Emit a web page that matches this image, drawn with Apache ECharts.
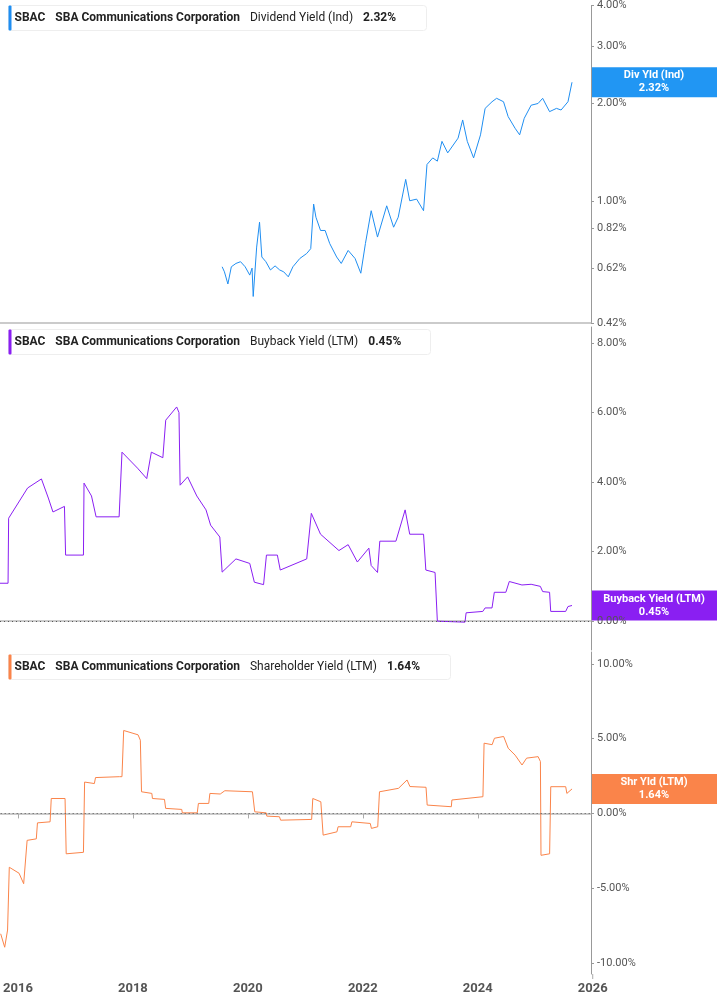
<!DOCTYPE html>
<html>
<head>
<meta charset="utf-8">
<script src="https://cdn.jsdelivr.net/npm/echarts@6/dist/echarts.min.js"></script>
<style>html,body{margin:0;padding:0;background:#fff}#c{width:717px;height:1005px}</style>
</head>
<body>
<div id="c"></div>
<script>
// dividend yield (ind), %  [decimal year, value]
const divYield = [[2019.56,0.626],[2019.60,0.604],[2019.66,0.554],[2019.72,0.626],[2019.80,0.641],[2019.88,0.649],[2019.96,0.626],[2020.04,0.59],[2020.08,0.62],[2020.10,0.507],[2020.16,0.72],[2020.21,0.859],[2020.25,0.671],[2020.32,0.649],[2020.40,0.612],[2020.48,0.63],[2020.56,0.612],[2020.63,0.604],[2020.71,0.583],[2020.79,0.626],[2020.91,0.664],[2021.03,0.688],[2021.10,0.712],[2021.15,0.977],[2021.19,0.89],[2021.27,0.81],[2021.35,0.81],[2021.43,0.738],[2021.55,0.671],[2021.63,0.641],[2021.75,0.703],[2021.87,0.664],[2021.97,0.598],[2022.05,0.738],[2022.15,0.932],[2022.26,0.773],[2022.42,0.965],[2022.54,0.829],[2022.62,0.89],[2022.75,1.164],[2022.82,1.0],[2022.94,1.012],[2023.06,0.932],[2023.12,1.294],[2023.22,1.356],[2023.30,1.325],[2023.38,1.525],[2023.48,1.405],[2023.66,1.56],[2023.74,1.775],[2023.82,1.525],[2023.93,1.356],[2024.05,1.597],[2024.13,1.927],[2024.25,2.02],[2024.33,2.07],[2024.45,2.02],[2024.53,1.818],[2024.65,1.674],[2024.73,1.597],[2024.81,1.796],[2024.93,1.971],[2025.05,1.995],[2025.13,2.07],[2025.25,1.883],[2025.37,1.927],[2025.45,1.905],[2025.57,2.02],[2025.64,2.32]];
// buyback yield (LTM), %
const buybackYield = [[2015.70,1.09],[2015.84,1.09],[2015.85,2.96],[2016.18,3.83],[2016.42,4.09],[2016.54,3.54],[2016.62,3.14],[2016.82,3.3],[2016.84,1.9],[2017.15,1.9],[2017.16,3.97],[2017.29,3.6],[2017.37,3.0],[2017.77,3.0],[2017.82,4.86],[2018.09,4.4],[2018.25,4.1],[2018.33,4.86],[2018.53,4.7],[2018.58,5.78],[2018.77,6.16],[2018.81,6.0],[2018.83,3.91],[2018.96,4.15],[2019.12,3.6],[2019.28,3.2],[2019.36,2.76],[2019.52,2.42],[2019.56,1.41],[2019.80,1.79],[2020.04,1.66],[2020.12,1.12],[2020.28,1.05],[2020.33,1.9],[2020.52,1.9],[2020.57,1.47],[2021.03,1.79],[2021.11,3.1],[2021.27,2.5],[2021.59,2.03],[2021.75,2.2],[2021.91,1.7],[2022.11,2.1],[2022.15,1.6],[2022.26,1.4],[2022.30,2.3],[2022.58,2.3],[2022.74,3.2],[2022.82,2.5],[2023.06,2.5],[2023.10,1.47],[2023.26,1.4],[2023.30,0.0],[2023.78,-0.03],[2023.80,0.24],[2024.09,0.28],[2024.13,0.38],[2024.25,0.38],[2024.29,0.83],[2024.49,0.83],[2024.55,1.14],[2024.77,1.04],[2024.93,1.06],[2025.09,1.0],[2025.13,0.85],[2025.25,0.83],[2025.27,0.28],[2025.53,0.28],[2025.57,0.42],[2025.64,0.45]];
// shareholder yield (LTM), %
const shrYield = [[2015.70,-8.05],[2015.77,-8.95],[2015.82,-7.8],[2015.85,-3.6],[2016.02,-4.0],[2016.10,-4.7],[2016.16,-1.8],[2016.32,-1.7],[2016.34,-0.63],[2016.56,-0.56],[2016.58,1.0],[2016.82,1.0],[2016.84,-2.7],[2017.14,-2.6],[2017.16,2.1],[2017.33,2.0],[2017.35,2.4],[2017.77,2.46],[2017.81,2.46],[2017.84,5.55],[2018.09,5.26],[2018.13,4.9],[2018.15,1.45],[2018.33,1.34],[2018.34,1.0],[2018.55,0.94],[2018.57,0.34],[2018.85,0.27],[2018.86,0.04],[2019.12,0.04],[2019.14,0.67],[2019.32,0.67],[2019.34,1.34],[2019.52,1.3],[2019.60,1.52],[2020.08,1.45],[2020.12,0.11],[2020.32,0.04],[2020.33,-0.18],[2020.55,-0.22],[2020.57,-0.45],[2021.11,-0.4],[2021.13,1.0],[2021.27,0.78],[2021.31,-1.45],[2021.55,-1.23],[2021.57,-0.89],[2021.79,-0.89],[2021.81,-0.56],[2022.13,-0.67],[2022.15,-1.0],[2022.26,-0.89],[2022.29,1.45],[2022.62,1.68],[2022.77,2.24],[2022.82,1.8],[2023.10,1.75],[2023.12,0.56],[2023.54,0.45],[2023.55,0.9],[2024.09,1.12],[2024.11,4.7],[2024.25,4.6],[2024.29,5.03],[2024.45,5.15],[2024.53,4.36],[2024.65,3.9],[2024.77,3.24],[2024.85,3.7],[2025.05,3.8],[2025.09,3.47],[2025.10,-2.8],[2025.25,-2.7],[2025.27,1.79],[2025.53,1.79],[2025.55,1.34],[2025.64,1.64]];

const yearTicks = [2016, 2018, 2020, 2022, 2024];
const lastYearTick = 2026;
const divTicks = [0.42, 0.62, 0.82, 1, 2, 3, 4];
const buybackTicks = [0, 2, 4, 6, 8];
const shrTicks = [-10, -5, 0, 5, 10];

const blue = '#1f8ef1', purple = '#8a1ff2', orange = '#fa844a';
const font = 'Roboto, "Liberation Sans", sans-serif';
const chart = echarts.init(document.getElementById('c'));

function xAx(i, showLabels) {
  return {
    type: 'value', gridIndex: i, min: 2015.70, max: 2025.97,
    axisLine: { show: true, lineStyle: { color: '#bbb', width: 1.5 } },
    axisTick: { show: showLabels, customValues: yearTicks, length: 5, lineStyle: { color: '#aaa' } },
    axisLabel: { show: showLabels, customValues: yearTicks, formatter: v => String(Math.round(v)),
      color: '#555', fontWeight: 'bold', fontSize: 13, fontFamily: font, margin: 8 },
    splitLine: { show: false }
  };
}
function yAx(i, type, min, max, ticks) {
  return {
    type, gridIndex: i, position: 'right', min, max, logBase: 10,
    axisLine: { show: true, lineStyle: { color: '#999' } },
    axisTick: { show: true, customValues: ticks, length: 3, lineStyle: { color: '#999' } },
    axisLabel: { customValues: ticks, formatter: v => v.toFixed(2) + '%', color: '#555',
      fontSize: 11, fontFamily: font, margin: 6 },
    splitLine: { show: false }
  };
}
const zeroLine = { silent: true, symbol: 'none', label: { show: false },
  lineStyle: { type: [1, 3], color: '#555', width: 1 }, data: [{ yAxis: 0 }] };

chart.setOption({
  animation: false,
  grid: [
    { left: 0, right: 126, top: 3, height: 320 },
    { left: 0, right: 126, top: 327, height: 323 },
    { left: 0, right: 126, top: 652, height: 322 }
  ],
  xAxis: [xAx(0, false), xAx(1, false), xAx(2, true)],
  yAxis: [yAx(0, 'log', 0.42, 4, divTicks), yAx(1, 'value', -0.83, 8.46, buybackTicks), yAx(2, 'value', -10.74, 10.8, shrTicks)],
  series: [
    { type: 'line', xAxisIndex: 0, yAxisIndex: 0, data: divYield, showSymbol: false, lineStyle: { color: blue, width: 1 } },
    { type: 'line', xAxisIndex: 1, yAxisIndex: 1, data: buybackYield, showSymbol: false, lineStyle: { color: purple, width: 1 }, markLine: zeroLine },
    { type: 'line', xAxisIndex: 2, yAxisIndex: 2, data: shrYield, showSymbol: false, lineStyle: { color: orange, width: 1 }, markLine: zeroLine }
  ]
});

function legend(y, color, metric, val, w) {
  return { type: 'group', left: 8, top: y, children: [
    { type: 'rect', shape: { x: 0, y: 0, width: w, height: 25, r: 3 }, style: { fill: '#fff', stroke: '#eee' } },
    { type: 'rect', shape: { x: 0, y: 0, width: 3, height: 25, r: 1 }, style: { fill: color } },
    { type: 'text', x: 6, y: 6, style: { text: '{b|SBAC}   {b|SBA Communications Corporation}   {n|' + metric + '}   {b|' + val + '}',
      rich: { b: { fontWeight: 'bold', fontSize: 12, fill: '#222', fontFamily: font }, n: { fontSize: 12, fill: '#222', fontFamily: font } } } }
  ] };
}
function badge(seriesIdx, lastVal, color, line1, line2) {
  const y = chart.convertToPixel({ seriesIndex: seriesIdx }, lastVal)[1];
  return { type: 'group', left: 591, top: y - 15, children: [
    { type: 'rect', shape: { x: 0, y: 0, width: 126, height: 30 }, style: { fill: color } },
    { type: 'text', x: 63, y: 15, style: { text: line1 + '\n' + line2, fill: '#fff', fontWeight: 'bold', fontSize: 11,
      fontFamily: font, align: 'center', verticalAlign: 'middle', lineHeight: 13 } }
  ] };
}
// 2026 sits just past the plot edge, so place it through the x scale
const x2026 = chart.convertToPixel({ xAxisIndex: 2 }, lastYearTick);
const axisBottom = chart.convertToPixel({ yAxisIndex: 2 }, -10.74);
chart.setOption({ graphic: [
  legend(5, blue, 'Dividend Yield (Ind)', '2.32%', 418),
  legend(329, purple, 'Buyback Yield (LTM)', '0.45%', 422),
  legend(654, orange, 'Shareholder Yield (LTM)', '1.64%', 442),
  badge(0, divYield[divYield.length - 1], '#2196f3', 'Div Yld (Ind)', '2.32%'),
  badge(1, buybackYield[buybackYield.length - 1], purple, 'Buyback Yield (LTM)', '0.45%'),
  badge(2, shrYield[shrYield.length - 1], orange, 'Shr Yld (LTM)', '1.64%'),
  { type: 'line', shape: { x1: x2026, y1: axisBottom, x2: x2026, y2: axisBottom + 5 }, style: { stroke: '#aaa' } },
  { type: 'text', x: x2026, y: axisBottom + 8, style: { text: String(lastYearTick), fill: '#555', fontWeight: 'bold',
    fontSize: 13, fontFamily: font, align: 'center', verticalAlign: 'top' } }
] });
</script>
</body>
</html>
